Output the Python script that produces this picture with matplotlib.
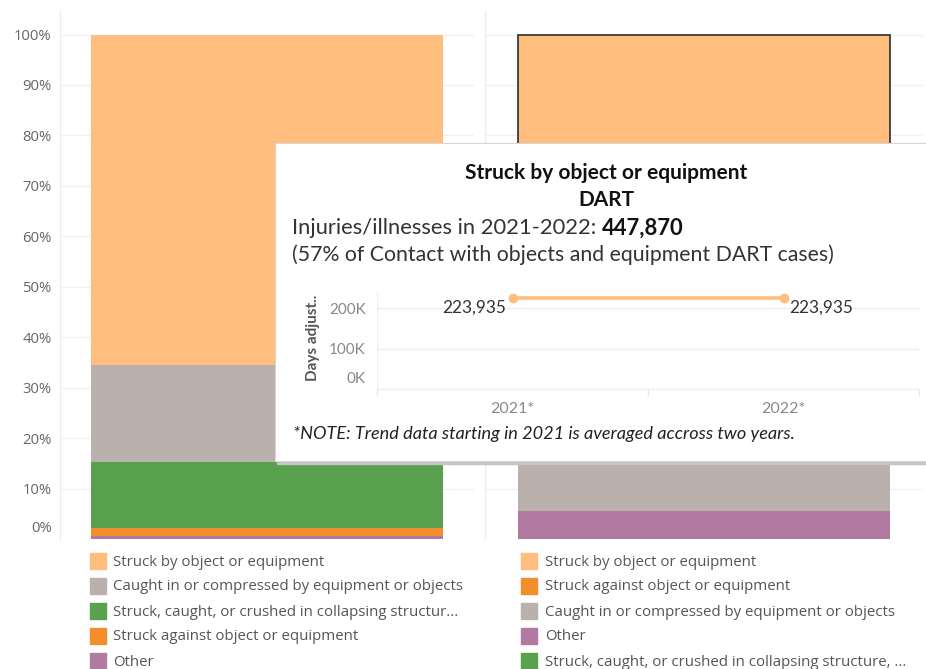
import matplotlib.pyplot as plt
from matplotlib.patches import Rectangle

# ---- data ----
categories = ["Struck by object or equipment",
              "Caught in or compressed by equipment or objects",
              "Struck, caught, or crushed in collapsing structure, equipment, or material",
              "Struck against object or equipment",
              "Other"]
colors = {"Struck by object or equipment": "#FFBE7D",
          "Caught in or compressed by equipment or objects": "#BAB0AC",
          "Struck, caught, or crushed in collapsing structure, equipment, or material": "#59A14F",
          "Struck against object or equipment": "#F28E2B",
          "Other": "#B07AA1"}

# percent shares, listed top -> bottom of each stacked bar
left_order = ["Struck by object or equipment",
              "Caught in or compressed by equipment or objects",
              "Struck, caught, or crushed in collapsing structure, equipment, or material",
              "Struck against object or equipment",
              "Other"]
left_share = [65.6, 19.2, 13.1, 1.6, 0.5]

right_order = ["Struck by object or equipment",
               "Struck against object or equipment",
               "Caught in or compressed by equipment or objects",
               "Other",
               "Struck, caught, or crushed in collapsing structure, equipment, or material"]
right_share = [57.0, 19.4, 18.1, 5.45, 0.05]

left_legend = ["Struck by object or equipment",
               "Caught in or compressed by equipment or objects",
               "Struck, caught, or crushed in collapsing structur...",
               "Struck against object or equipment",
               "Other"]
right_legend = ["Struck by object or equipment",
                "Struck against object or equipment",
                "Caught in or compressed by equipment or objects",
                "Other",
                "Struck, caught, or crushed in collapsing structure, ..."]

pct_ticks = [10, 20, 30, 40, 50, 60, 70, 80, 90, 100]

# tooltip trend
trend_years = ["2021*", "2022*"]
trend_days = [223935, 223935]
trend_ticks = [100000, 200000]

W, H = 926, 669
fig = plt.figure(figsize=(W / 100, H / 100), dpi=100)
fig.patch.set_facecolor("white")
plt.rcParams["font.family"] = ["Open Sans", "DejaVu Sans"]


def box(x0, y0, x1, y1):
    return [x0 / W, 1 - y1 / H, (x1 - x0) / W, (y1 - y0) / H]


def fxy(x, y):
    return x / W, 1 - y / H


def draw_stack(ax, order, share, highlight=None):
    bottom = 0
    for name, v in zip(reversed(order), reversed(share)):
        ec = "#3a3a3a" if name == highlight else "none"
        ax.bar(0, v, width=0.85, bottom=bottom, color=colors[name],
               edgecolor=ec, linewidth=1.3 if ec != "none" else 0, zorder=3)
        bottom += v


top_pct = (539 - 10) / 5.045
axL = fig.add_axes(box(60, 10, 474, 539))
axR = fig.add_axes(box(485, 10, 923, 539))
for ax in (axL, axR):
    ax.set_xlim(-0.5, 0.5)
    ax.set_ylim(0, top_pct)
    ax.set_xticks([])
    for s in ("top", "right", "bottom"):
        ax.spines[s].set_visible(False)
    ax.spines["left"].set_color("#ececec")
    ax.set_yticks([0] + pct_ticks)
    ax.grid(axis="y", color="#f0f0f0", linewidth=1, zorder=0)
    ax.tick_params(axis="y", length=0)

draw_stack(axL, left_order, left_share)
draw_stack(axR, right_order, right_share, highlight="Struck by object or equipment")

axL.set_yticklabels([""] + ["%d%%" % t for t in pct_ticks], color="#666666", fontsize=10.7)
axL.tick_params(axis="y", pad=6)
axL.annotate("0%", xy=(0, 0), xycoords="axes fraction", xytext=(-5.5, 7.5),
             textcoords="offset points", ha="right", va="center",
             color="#666666", fontsize=10.7)
axR.set_yticklabels([])

# legends
for i, name in enumerate(left_legend):
    y = 561 + 25 * i
    fig.patches.append(Rectangle(fxy(90, y + 8), 16 / W, 16 / H, transform=fig.transFigure,
                                 color=colors[left_order[i]], figure=fig))
    fig.text(*fxy(113, y + 1), name, fontsize=10.8, color="#555555", va="center")
for i, name in enumerate(right_legend):
    y = 561 + 25 * i
    fig.patches.append(Rectangle(fxy(521, y + 8), 16 / W, 16 / H, transform=fig.transFigure,
                                 color=colors[right_order[i]], figure=fig))
    fig.text(*fxy(545, y + 1), name, fontsize=10.8, color="#555555", va="center")

# ---- tooltip ----
fig.patches.append(Rectangle(fxy(277, 464), 700 / W, 320 / H, transform=fig.transFigure,
                             color="#c4c4c4", zorder=4, figure=fig))
tip = fig.add_axes(box(275, 143, 960, 461), zorder=5)
tip.set_facecolor("white")
tip.set_xticks([])
tip.set_yticks([])
for s in tip.spines.values():
    s.set_color("#d6d6d6")

tf = ["Lato", "DejaVu Sans"]
fig.text(*fxy(606, 173), "Struck by object or equipment", ha="center", va="center",
         fontsize=15, fontweight="bold", color="#111111", family=tf, zorder=7)
fig.text(*fxy(606, 200), "DART", ha="center", va="center",
         fontsize=15, fontweight="bold", color="#111111", family=tf, zorder=7)
t1 = fig.text(*fxy(292, 228), "Injuries/illnesses in 2021-2022: ", va="center",
              fontsize=15.8, color="#333333", family=tf, zorder=7)
r = fig.canvas.get_renderer()
ext = t1.get_window_extent(renderer=r)
fig.text(ext.x1 / W, 1 - 228 / H, "{:,}".format(sum(trend_days)), va="center",
         fontsize=15.8, fontweight="bold", color="#111111", family=tf, zorder=7)
fig.text(*fxy(292, 255), "(57% of Contact with objects and equipment DART cases)", va="center",
         fontsize=15.3, color="#333333", family=tf, zorder=7)
fig.text(*fxy(293, 434), "*NOTE: Trend data starting in 2021 is averaged accross two years.",
         va="center", fontsize=13.1, style="italic", color="#222222", family=tf, zorder=7)

mini = fig.add_axes(box(377, 292, 919, 389), zorder=6)
mini.patch.set_alpha(0)
mini.set_xlim(-0.5, 1.5)
mini.set_ylim(0, (389 - 292) / 0.405 * 1000)
xs = list(range(len(trend_years)))
mini.plot(xs, trend_days, color="#FFBE7D", linewidth=2.6, marker="o", markersize=6, zorder=3)
mini.annotate("{:,}".format(trend_days[0]), xy=(xs[0], trend_days[0]), xytext=(-5, -7),
              textcoords="offset points", ha="right", va="center",
              fontsize=12.4, color="#333333", family=tf)
mini.annotate("{:,}".format(trend_days[1]), xy=(xs[1], trend_days[1]), xytext=(4, -7),
              textcoords="offset points", ha="left", va="center",
              fontsize=12.4, color="#333333", family=tf)
mini.set_yticks([0] + trend_ticks)
mini.set_yticklabels([""] + ["%dK" % (t // 1000) for t in trend_ticks],
                     fontsize=11, color="#888888", family=tf)
mini.annotate("0K", xy=(0, 0), xycoords="axes fraction", xytext=(-8, 7.5),
              textcoords="offset points", ha="right", va="center",
              color="#888888", fontsize=11, family=tf)
mini.tick_params(axis="y", length=0, pad=8)
mini.set_xticks(xs)
mini.set_xticklabels(trend_years, fontsize=11.5, color="#888888", family=tf)
mini.set_xticks([-0.5, 0.5, 1.5], minor=True)
mini.tick_params(axis="x", which="major", length=0, pad=9)
mini.tick_params(axis="x", which="minor", length=5, color="#e6e6e6", width=1)
mini.grid(axis="y", color="#eeeeee", linewidth=1, zorder=0)
for s in ("top", "right"):
    mini.spines[s].set_visible(False)
mini.spines["left"].set_color("#eeeeee")
mini.spines["bottom"].set_color("#eeeeee")
fig.text(*fxy(313, 338), "Days adjust..", rotation=90, ha="center", va="center",
         fontsize=11, fontweight="bold", color="#555555", family=tf, zorder=7)

fig.savefig("out.png", dpi=100)
